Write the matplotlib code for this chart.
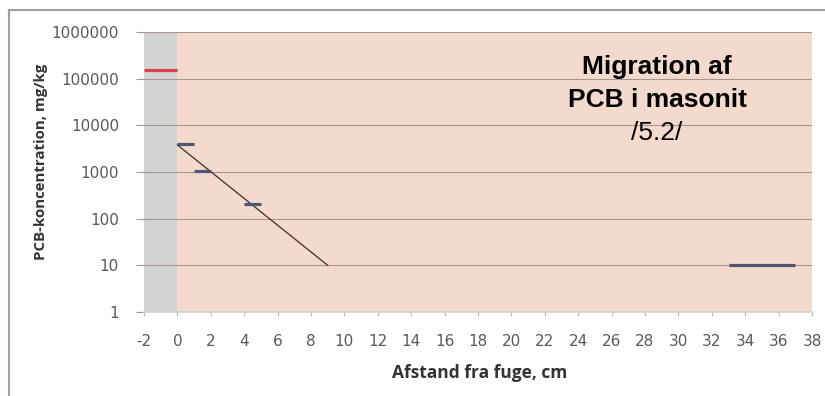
import matplotlib
matplotlib.use("Agg")
import matplotlib.pyplot as plt
from matplotlib.lines import Line2D

# Data
red_x = [-2, 0]
red_y = [150000, 150000]
blue_segments_x = [[0, 1], [1, 2], [4, 5], [33, 37]]
blue_segments_y = [[4000, 4000], [1050, 1050], [210, 210], [10, 10]]
trend_x = [0, 9]
trend_y = [3800, 10]
xticks = list(range(-2, 39, 2))
yticks = [1, 10, 100, 1000, 10000, 100000, 1000000]
ytick_labels = ["1", "10", "100", "1000", "10000", "100000", "1000000"]

W, H = 825, 396
fig = plt.figure(figsize=(W/100, H/100), dpi=100)
fig.patch.set_facecolor("white")
ax = fig.add_axes([144/W, 1-312/H, (812-144)/W, (312-32)/H])

ax.set_facecolor("#f3dacd")
ax.axvspan(-2, 0, color="#d4d3d3", zorder=0.5, lw=0)
ax.set_yscale("log")
ax.set_xlim(-2, 38)
ax.set_ylim(1, 1000000)

for y in yticks[1:]:
    ax.axhline(y, color="#a89590", lw=0.8, zorder=1)

ax.plot(red_x, red_y, color="#d9404e", lw=2.3, solid_capstyle="butt", zorder=3)
for sx, sy in zip(blue_segments_x, blue_segments_y):
    ax.plot(sx, sy, color="#4f5779", lw=2.3, solid_capstyle="butt", zorder=3)
ax.plot(trend_x, trend_y, color="#4a3c38", lw=1.0, zorder=2)

for s in ["top", "right", "left"]:
    ax.spines[s].set_visible(False)
ax.spines["bottom"].set_color("#cfcfcf")
ax.spines["bottom"].set_linewidth(1.2)

ax.set_xticks(xticks)
ax.set_xticklabels([str(v) for v in xticks])
ax.set_yticks(yticks)
ax.set_yticklabels(ytick_labels)
ax.minorticks_off()
ax.tick_params(axis="x", direction="out", length=3, color="#b8b8b8", labelsize=11,
               labelcolor="#595959", pad=13)
ax.tick_params(axis="y", direction="out", length=6, color="#a89590", labelsize=11,
               labelcolor="#595959", pad=12)
for lbl in ax.get_xticklabels() + ax.get_yticklabels():
    lbl.set_family("DejaVu Sans")

fig.text(480/W, 1-373/H, "Afstand fra fuge, cm", fontsize=12.5, fontweight="bold",
         color="#333333", family="Open Sans", ha="center", va="center")
fig.text(41/W, 1-162/H, "PCB-koncentration, mg/kg", fontsize=10.8, fontweight="bold",
         color="#333333", family="Open Sans", ha="center", va="center", rotation=90)

fig.text(657/W, 1-67/H, "Migration af", ha="center", va="center", fontsize=19,
         fontweight="bold", family="Liberation Sans", color="black")
fig.text(658/W, 1-100/H, "PCB i masonit", ha="center", va="center", fontsize=19,
         fontweight="bold", family="Liberation Sans", color="black")
fig.text(657/W, 1-133/H, "/5.2/", ha="center", va="center", fontsize=19,
         family="Liberation Sans", color="black")

# outer chart border
fig.add_artist(Line2D([9/W, 9/W], [0, 1-10/H], transform=fig.transFigure,
                      color="#a0a0a0", lw=1.5))
fig.add_artist(Line2D([9/W, 1], [1-10/H, 1-10/H], transform=fig.transFigure,
                      color="#a0a0a0", lw=1.5))

fig.savefig("out.png", dpi=100)
